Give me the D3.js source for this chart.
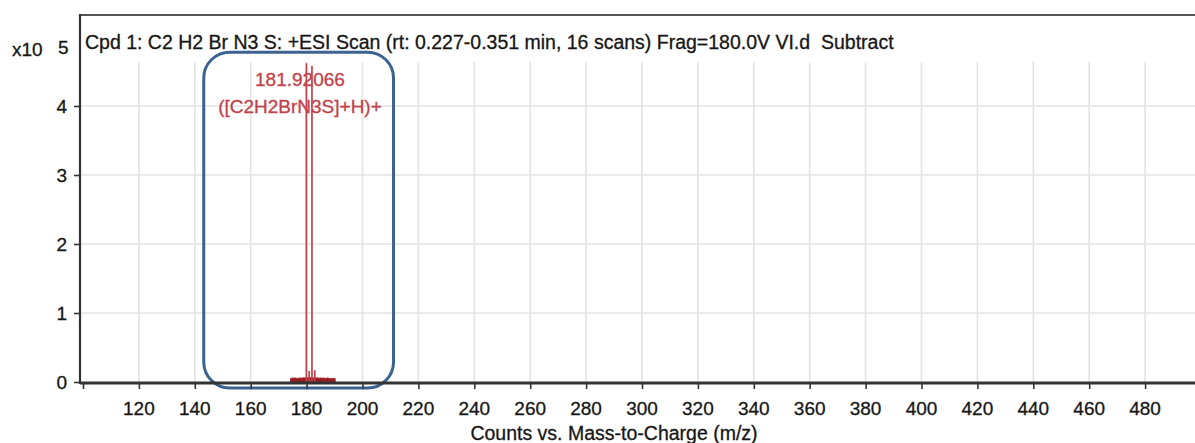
<html>
<meta charset="utf-8" />
<head>
<title>Cpd 1 spectrum</title>
<script src="https://cdn.jsdelivr.net/npm/d3@7"></script>
<style>
	body { margin: 0; background: white; }
	svg text { font-family: Arial, "Liberation Sans", sans-serif; stroke-width: 0.3px; }
</style>
</head>
<body>
<svg id="chart" width="1195" height="443"></svg>
<script>
// peaks (m/z, counts x10^5)
const peakMz = [179.92, 181.92, 180.93, 182.93];
const peakCounts = [4.62, 4.58, 0.16, 0.17];

// low noise under the cluster
const noiseMz = [174.5, 175.0, 175.5, 176.0, 176.5, 177.0, 177.5, 178.0, 178.5, 179.0, 179.5,
	180.0, 180.5, 181.0, 181.5, 182.0, 182.5, 183.0, 183.5, 184.0, 184.5, 185.0, 185.5,
	186.0, 186.5, 187.0, 187.5, 188.0, 188.5, 189.0, 189.5, 190.0];
const noiseCounts = [0.04, 0.05, 0.04, 0.05, 0.04, 0.04, 0.05, 0.04, 0.05, 0.05, 0.05,
	0.05, 0.05, 0.06, 0.05, 0.05, 0.05, 0.05, 0.05, 0.05, 0.04, 0.05, 0.04,
	0.05, 0.04, 0.04, 0.05, 0.04, 0.04, 0.04, 0.04, 0.04];

const xTicks = [100, 120, 140, 160, 180, 200, 220, 240, 260, 280, 300, 320, 340, 360, 380, 400, 420, 440, 460, 480, 500];
const xTickLabels = [120, 140, 160, 180, 200, 220, 240, 260, 280, 300, 320, 340, 360, 380, 400, 420, 440, 460, 480];
const yTicks = [0, 1, 2, 3, 4];

const peakLabel = ['181.92066', '([C2H2BrN3S]+H)+'];
const labelledMz = 181.92;

// highlight box (data units)
const boxMz = [143.2, 211.1];
const boxCounts = [4.78, -0.087];

const titleText = 'Cpd 1: C2 H2 Br N3 S: +ESI Scan (rt: 0.227-0.351 min, 16 scans) Frag=180.0V VI.d  Subtract';
const xTitle = 'Counts vs. Mass-to-Charge (m/z)';

const svg = d3.select('#chart');
const axisX = 80, axisY = 383, frameTop = 15, gridTop = 62, rightEdge = 1195;
const ink = '#161616';

const x = d3.scaleLinear().domain([100, 500]).range([83, 1201]);
const y = d3.scaleLinear().domain([0, 4]).range([382, 106]);

// grid
svg.append('g').selectAll('line.v')
	.data(xTicks.filter(d => d > 100)).enter()
	.append('line')
	.attr('x1', d => x(d)).attr('x2', d => x(d))
	.attr('y1', gridTop).attr('y2', axisY)
	.style('stroke', '#e3e3e3').style('stroke-width', 1.6);

svg.append('g').selectAll('line.h')
	.data(yTicks.filter(d => d > 0)).enter()
	.append('line')
	.attr('x1', axisX).attr('x2', rightEdge)
	.attr('y1', d => y(d)).attr('y2', d => y(d))
	.style('stroke', '#e3e3e3').style('stroke-width', 1.6);

// frame top
svg.append('line')
	.attr('x1', axisX).attr('x2', rightEdge)
	.attr('y1', frameTop).attr('y2', frameTop)
	.style('stroke', '#555').style('stroke-width', 2);

// noise band
svg.append('g').selectAll('line')
	.data(noiseMz).enter()
	.append('line')
	.attr('x1', d => x(d)).attr('x2', d => x(d))
	.attr('y1', y(0)).attr('y2', (d, i) => y(noiseCounts[i]) - 1)
	.style('stroke', '#9b1b1e').style('stroke-width', 2.2);

// peaks
svg.append('g').selectAll('line')
	.data(peakMz).enter()
	.append('line')
	.attr('x1', d => x(d)).attr('x2', d => x(d))
	.attr('y1', y(0)).attr('y2', (d, i) => y(peakCounts[i]))
	.style('stroke', '#c2414a').style('stroke-width', 1.7);

// peak label
svg.append('g').selectAll('text')
	.data(peakLabel).enter()
	.append('text')
	.attr('x', x(labelledMz) - 12)
	.attr('y', (d, i) => 86 + i * 27)
	.attr('text-anchor', 'middle')
	.style('font-size', '19px')
	.style('fill', '#c2414a').style('stroke', '#c2414a')
	.text(d => d);

// highlight box
svg.append('rect')
	.attr('x', x(boxMz[0])).attr('y', y(boxCounts[0]))
	.attr('width', x(boxMz[1]) - x(boxMz[0]))
	.attr('height', y(boxCounts[1]) - y(boxCounts[0]))
	.attr('rx', 26).attr('ry', 26)
	.style('fill', 'none').style('stroke', '#3b6291').style('stroke-width', 3);

// axes
const xAxis = d3.axisBottom(x).tickValues(xTicks).tickSize(6).tickFormat('');
const gx = svg.append('g').attr('transform', 'translate(0,' + axisY + ')').call(xAxis);
gx.select('path.domain').remove();
gx.selectAll('line').style('stroke', '#333').style('stroke-width', 1.6);
svg.append('line')
	.attr('x1', axisX).attr('x2', rightEdge)
	.attr('y1', axisY).attr('y2', axisY)
	.style('stroke', '#333').style('stroke-width', 3);

svg.append('g').selectAll('text')
	.data(xTickLabels).enter()
	.append('text')
	.attr('x', d => x(d)).attr('y', 415)
	.attr('text-anchor', 'middle')
	.style('font-size', '19px').style('fill', ink).style('stroke', ink)
	.text(d => d);

const yAxis = d3.axisLeft(y).tickValues(yTicks).tickSize(6).tickFormat('');
const gy = svg.append('g').attr('transform', 'translate(' + axisX + ',0)').call(yAxis);
gy.select('path.domain').remove();
gy.selectAll('line').style('stroke', '#333').style('stroke-width', 1.6);
svg.append('line')
	.attr('x1', axisX).attr('x2', axisX)
	.attr('y1', frameTop - 1).attr('y2', axisY + 1)
	.style('stroke', '#333').style('stroke-width', 2.2);

svg.append('g').selectAll('text')
	.data(yTicks).enter()
	.append('text')
	.attr('x', 67).attr('y', d => y(d) + 7)
	.attr('text-anchor', 'end')
	.style('font-size', '19px').style('fill', ink).style('stroke', ink)
	.text(d => d);

// x10^5
svg.append('text').attr('x', 12).attr('y', 56)
	.style('font-size', '19px').style('fill', ink).style('stroke', ink).text('x10');
svg.append('text').attr('x', 58).attr('y', 54)
	.style('font-size', '19px').style('fill', ink).style('stroke', ink).text('5');

// titles
svg.append('text').attr('x', 85).attr('y', 49)
	.attr('xml:space', 'preserve').style('white-space', 'pre')
	.style('font-size', '19.5px').style('fill', ink).style('stroke', ink).text(titleText);
svg.append('text').attr('x', 614).attr('y', 440)
	.attr('text-anchor', 'middle')
	.style('font-size', '19.5px').style('fill', ink).style('stroke', ink).text(xTitle);
</script>
</body>
</html>
